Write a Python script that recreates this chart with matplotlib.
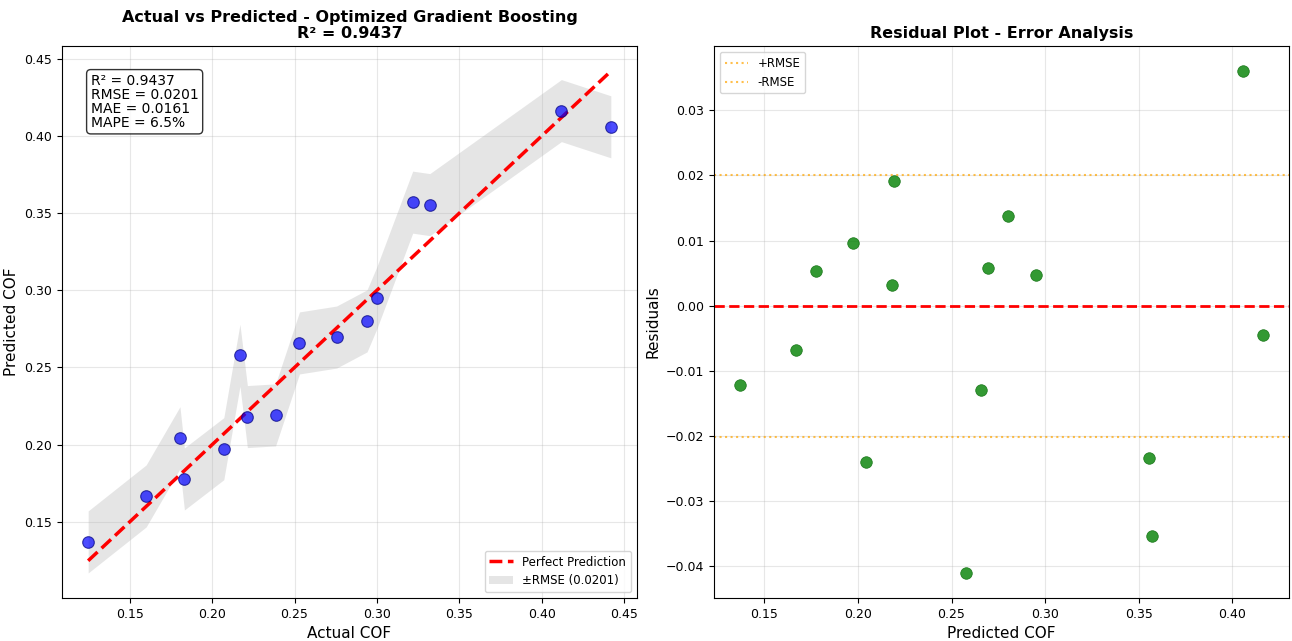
import numpy as np
import matplotlib
matplotlib.use('Agg')
import matplotlib.pyplot as plt

# values
actual = [0.1248, 0.1600, 0.1832, 0.2071, 0.1805, 0.2214, 0.2385, 0.2169,
          0.2530, 0.2755, 0.2940, 0.3000, 0.3321, 0.3217, 0.4419, 0.4119]
predicted = [0.1370, 0.1668, 0.1778, 0.1974, 0.2045, 0.2182, 0.2193, 0.2579,
             0.2659, 0.2697, 0.2802, 0.2953, 0.3555, 0.3571, 0.4059, 0.4164]
r2 = 0.9437
rmse = 0.0201
mae = 0.0161
mape = 6.5

actual = np.array(actual)
predicted = np.array(predicted)
residuals = actual - predicted

fig = plt.figure(figsize=(12.92, 6.41), dpi=100)
ax1 = fig.add_axes([0.048, 0.067, 0.445, 0.861])
ax2 = fig.add_axes([0.5526, 0.067, 0.4451, 0.861])

# left: actual vs predicted
ax1.scatter(actual, predicted, s=70, color='blue', alpha=0.7, edgecolors='navy', linewidths=0.8, zorder=3)
lo, hi = actual.min(), actual.max()
ax1.plot([lo, hi], [lo, hi], 'r--', lw=2.5, label='Perfect Prediction', zorder=2)
order = np.argsort(actual)
ax1.fill_between(actual[order], predicted[order] - rmse, predicted[order] + rmse,
                 color='gray', alpha=0.2, linewidth=0, label=f'±RMSE ({rmse:.4f})')
ax1.set_xlabel('Actual COF', fontsize=11)
ax1.set_ylabel('Predicted COF', fontsize=11)
ax1.set_title(f'Actual vs Predicted - Optimized Gradient Boosting\nR² = {r2:.4f}',
              fontsize=11.5, fontweight='bold', linespacing=1.05)
ax1.legend(loc='lower right', fontsize=8.5)
ax1.grid(True, alpha=0.3)
ax1.tick_params(labelsize=9)
stats = f'R² = {r2:.4f}\nRMSE = {rmse:.4f}\nMAE = {mae:.4f}\nMAPE = {mape:.1f}%'
ax1.text(0.05, 0.95, stats, transform=ax1.transAxes, fontsize=10, va='top',
         linespacing=1.0,
         bbox=dict(boxstyle='round', facecolor='white', alpha=0.8))

# right: residuals
ax2.scatter(predicted, residuals, s=70, color='green', alpha=0.8, edgecolors='darkgreen', linewidths=0.5, zorder=3)
ax2.axhline(0, color='red', linestyle='--', lw=2)
ax2.axhline(rmse, color='orange', linestyle=':', alpha=0.7, label='+RMSE')
ax2.axhline(-rmse, color='orange', linestyle=':', alpha=0.7, label='-RMSE')
ax2.set_xlabel('Predicted COF', fontsize=11)
ax2.set_ylabel('Residuals', fontsize=11)
ax2.set_title('Residual Plot - Error Analysis', fontsize=11.5, fontweight='bold')
ax2.legend(loc='upper left', fontsize=8.5)
ax2.grid(True, alpha=0.3)
ax2.tick_params(labelsize=9)

fig.savefig('out.png', dpi=100)
